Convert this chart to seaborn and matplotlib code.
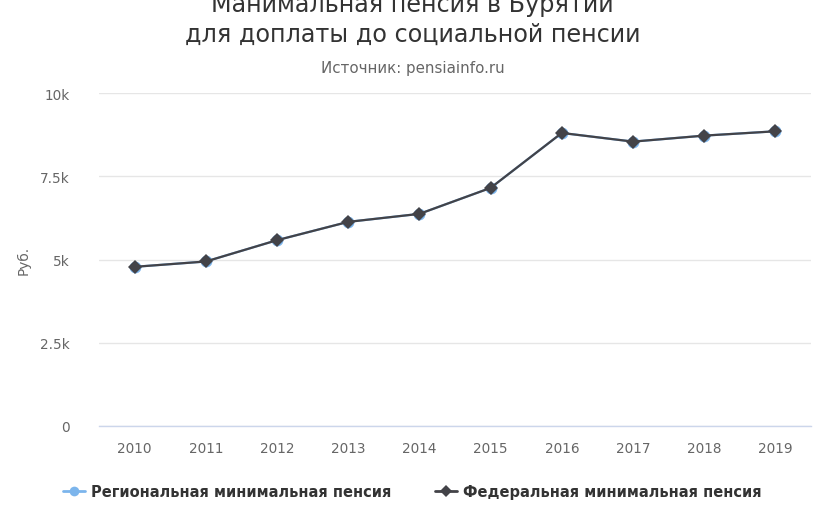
import matplotlib
matplotlib.use("Agg")
import matplotlib.pyplot as plt
import seaborn as sns
import pandas as pd
from matplotlib.lines import Line2D
from matplotlib.ticker import FuncFormatter, MultipleLocator

years = ["2010", "2011", "2012", "2013", "2014", "2015", "2016", "2017", "2018", "2019"]
regional = [4780, 4940, 5580, 6130, 6370, 7150, 8800, 8540, 8720, 8850]
federal = [4780, 4940, 5580, 6130, 6370, 7150, 8800, 8540, 8720, 8850]

title_line1 = "Манимальная пенсия в Бурятии"
title_line2 = "для доплаты до социальной пенсии"
subtitle = "Источник: pensiainfo.ru"
ylabel = "Руб."
name_reg = "Региональная минимальная пенсия"
name_fed = "Федеральная минимальная пенсия"

sns.set_theme(style="white")
plt.rcParams['font.family'] = ['DejaVu Sans']

df = pd.DataFrame({"year": years, "regional": regional, "federal": federal})
df["x"] = range(len(years))

fig = plt.figure(figsize=(8.25, 5.1), dpi=100)
ax = fig.add_axes([99 / 825, 1 - 427 / 510, (811 - 99) / 825, (427 - 94) / 510])

c_reg = "#7cb5ec"
c_fed = "#434348"

sns.lineplot(data=df, x="x", y="regional", ax=ax, color=c_reg, linewidth=1.6,
             marker="o", markersize=8.5, markeredgewidth=0, zorder=3)
sns.lineplot(data=df, x="x", y="federal", ax=ax, color=c_fed, linewidth=1.6,
             marker="D", markersize=7, markeredgewidth=0, zorder=4)

ax.set_xlim(-0.5, len(years) - 0.5)
ax.set_ylim(0, 10000)
ax.yaxis.set_major_locator(MultipleLocator(2500))
ax.yaxis.set_major_formatter(FuncFormatter(lambda v, p: "0" if v == 0 else (f"{v/1000:g}k")))
ax.set_xticks(range(len(years)))
ax.set_xticklabels(years)
ax.grid(axis="y", color="#e6e6e6", linewidth=1)
ax.grid(axis="x", visible=False)
for s in ["top", "right", "left"]:
    ax.spines[s].set_visible(False)
ax.spines["bottom"].set_color("#ccd6eb")
ax.spines["bottom"].set_linewidth(1)
ax.tick_params(axis="both", length=0, labelsize=9.8, colors="#666666")
ax.tick_params(axis="x", pad=11)
ax.tick_params(axis="y", pad=21)
ax.set_xlabel("")
ax.set_ylabel(ylabel, color="#666666", fontsize=9.8)
ax.yaxis.set_label_coords((31 - 99) / 712, 0.5)

fig.text(0.5, 1 - 5 / 510, title_line1, ha="center", va="center", fontsize=17.2, color="#333333")
fig.text(0.5, 1 - 35 / 510, title_line2, ha="center", va="center", fontsize=17.2, color="#333333")
fig.text(0.5, 1 - 68 / 510, subtitle, ha="center", va="center", fontsize=10.8, color="#666666")

handles = [
    Line2D([0], [0], color=c_reg, lw=2, marker="o", markersize=7, markeredgewidth=0),
    Line2D([0], [0], color=c_fed, lw=2, marker="D", markersize=6, markeredgewidth=0),
]
leg = fig.legend(handles, [name_reg, name_fed], loc="center", bbox_to_anchor=(0.5, 1 - 493 / 510),
                 ncol=2, frameon=False, handlelength=1.5, handletextpad=0.4, columnspacing=3.0,
                 prop={"size": 10.5, "weight": "bold"})
for t in leg.get_texts():
    t.set_color("#333333")

fig.savefig("out.png", dpi=100)
